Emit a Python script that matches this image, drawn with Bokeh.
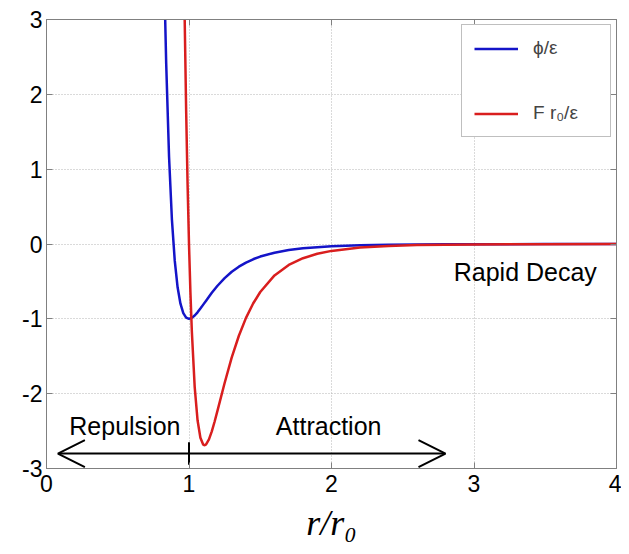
from bokeh.plotting import figure
from bokeh.models import (Range1d, FixedTicker, LinearAxis, Arrow, OpenHead, Label,
                          Legend, LegendItem, CustomJSTickFormatter, ColumnDataSource)
from bokeh.embed import file_html
from bokeh.resources import INLINE

# ---- data ----
r_phi = [0.82, 0.83, 0.84, 0.86, 0.88, 0.90, 0.92, 0.94, 0.96, 0.98, 1.00, 1.02, 1.04,
         1.06, 1.08, 1.10, 1.12, 1.14, 1.16, 1.18, 1.20, 1.25, 1.30, 1.35, 1.40, 1.45,
         1.50, 1.60, 1.70, 1.80, 1.90, 2.00, 2.20, 2.40, 2.60, 2.80, 3.00, 3.50, 4.00]
phi = [4.24, 3.238, 2.410, 1.166, 0.330, -0.223, -0.579, -0.798, -0.923, -0.983, -1.000,
       -0.987, -0.956, -0.913, -0.863, -0.810, -0.757, -0.704, -0.652, -0.604, -0.558,
       -0.456, -0.371, -0.303, -0.248, -0.204, -0.168, -0.116, -0.081, -0.058, -0.042,
       -0.031, -0.018, -0.010, -0.0065, -0.0041, -0.0027, -0.0011, -0.0005]

r_force = [0.96, 0.97, 0.98, 0.99, 1.00, 1.01, 1.02, 1.04, 1.06, 1.08, 1.10, 1.11, 1.12,
           1.14, 1.16, 1.18, 1.20, 1.25, 1.30, 1.35, 1.40, 1.45, 1.50, 1.60, 1.70, 1.80,
           1.90, 2.00, 2.20, 2.40, 2.60, 2.80, 3.00, 3.50, 4.00]
force = [4.431, 2.978, 1.781, 0.800, 0.000, -0.649, -1.170, -1.912, -2.355, -2.590,
         -2.682, -2.690, -2.678, -2.611, -2.503, -2.372, -2.227, -1.857, -1.516, -1.226,
         -0.987, -0.795, -0.641, -0.420, -0.280, -0.190, -0.131, -0.092, -0.048, -0.026,
         -0.015, -0.009, -0.0055, -0.0019, -0.0007]

x_ticks = [0, 1, 2, 3, 4]
y_ticks = [-3, -2, -1, 0, 1, 2, 3]

legend_labels = ["ϕ/ε", "F r₀/ε"]

arrow_x = [0.08, 2.80]
arrow_y = -2.80
marker_x = [1.0]
marker_y0 = [-2.65]
marker_y1 = [-2.95]

annotations = [("Repulsion", 0.55, -2.43), ("Attraction", 1.98, -2.43), ("Rapid Decay", 3.36, -0.38)]

# ---- styles ----
FONT = "Liberation Sans"
GRAY = "#808080"
BLUE = "#1414c8"
RED = "#d91e1e"

p = figure(width=621, height=546, output_backend="svg", toolbar_location=None,
           x_range=Range1d(0, 4), y_range=Range1d(-3, 3),
           min_border_left=46, min_border_right=5, min_border_top=19, min_border_bottom=78)
p.background_fill_color = "white"
p.border_fill_color = "white"
p.outline_line_color = GRAY

plain = CustomJSTickFormatter(code="return tick.toString()")
for ax, ticks in ((p.xaxis, x_ticks), (p.yaxis, y_ticks)):
    ax.ticker = FixedTicker(ticks=ticks)
    ax.formatter = plain
    ax.major_tick_in = 6
    ax.major_tick_out = 0
    ax.minor_tick_line_color = None
    ax.axis_line_color = GRAY
    ax.major_tick_line_color = GRAY
    ax.major_label_text_font = FONT
    ax.major_label_text_font_size = "23px"
    ax.major_label_text_color = "black"

p.xaxis.major_label_standoff = 6
p.yaxis.major_label_standoff = 4
p.xaxis.axis_label = "r/r₀"
p.xaxis.axis_label_text_font = "Liberation Serif"
p.xaxis.axis_label_text_font_style = "italic"
p.xaxis.axis_label_text_font_size = "36px"
p.xaxis.axis_label_text_color = "black"
p.xaxis.axis_label_standoff = 8

empty = CustomJSTickFormatter(code="return ''")
p.add_layout(LinearAxis(ticker=FixedTicker(ticks=y_ticks), formatter=empty, major_tick_in=6,
                        major_tick_out=0, minor_tick_line_color=None, axis_line_color=GRAY,
                        major_tick_line_color=GRAY, major_label_standoff=0,
                        major_label_text_font_size="1px"), "right")
p.add_layout(LinearAxis(ticker=FixedTicker(ticks=x_ticks), formatter=empty, major_tick_in=6,
                        major_tick_out=0, minor_tick_line_color=None, axis_line_color=GRAY,
                        major_tick_line_color=GRAY, major_label_standoff=0,
                        major_label_text_font_size="1px"), "above")

p.xgrid.ticker = FixedTicker(ticks=x_ticks)
p.ygrid.ticker = FixedTicker(ticks=y_ticks)
p.grid.grid_line_color = "#b4b4b4"
p.grid.grid_line_dash = "1 2"
p.grid.grid_line_width = 1

l1 = p.line(x="r", y="v", source=ColumnDataSource(dict(r=r_phi, v=phi)),
            line_color=BLUE, line_width=2.5)
l2 = p.line(x="r", y="v", source=ColumnDataSource(dict(r=r_force, v=force)),
            line_color=RED, line_width=2.5)

# double arrow with marker at r = r0
p.add_layout(Arrow(start=OpenHead(size=27, line_width=2, line_color="black"),
                   end=OpenHead(size=27, line_width=2, line_color="black"),
                   x_start=arrow_x[0], y_start=arrow_y, x_end=arrow_x[1], y_end=arrow_y,
                   line_width=2, line_color="black"))
p.segment(x0=marker_x, y0=marker_y0, x1=marker_x, y1=marker_y1, line_width=2, line_color="black")

for txt, x, y in annotations:
    p.add_layout(Label(x=x, y=y, text=txt, text_align="center", text_baseline="middle",
                       text_font=FONT, text_font_size="25px", text_color="black"))

legend = Legend(items=[LegendItem(label=legend_labels[0], renderers=[l1]),
                       LegendItem(label=legend_labels[1], renderers=[l2])],
                location="top_right")
legend.border_line_color = GRAY
legend.border_line_width = 1
legend.background_fill_color = "white"
legend.background_fill_alpha = 1
legend.label_text_font = FONT
legend.label_text_font_size = "19px"
legend.glyph_width = 44
legend.glyph_height = 17
legend.label_height = 17
legend.label_width = 65
legend.label_standoff = 15
legend.spacing = 43
legend.padding = 12
legend.margin = 5
p.add_layout(legend)

open("out.html", "w").write(file_html(p, INLINE))
